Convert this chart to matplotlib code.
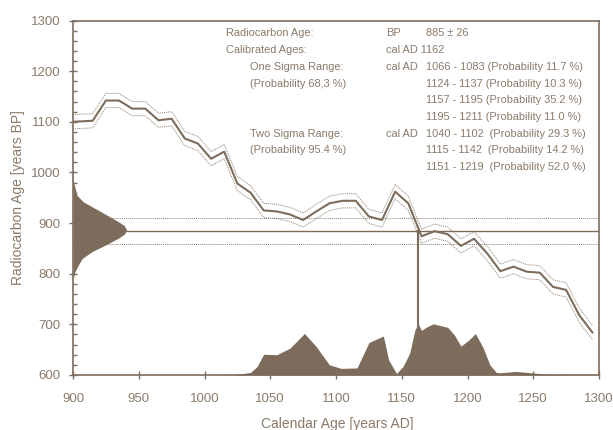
import matplotlib
matplotlib.use("Agg")
import matplotlib.pyplot as plt
from matplotlib.ticker import MultipleLocator

plt.rcParams['font.family'] = ['Liberation Sans', 'DejaVu Sans']

BROWN = "#7d6c5c"
TEXT = "#8a7a6a"

# calibration curve (cal AD vs radiocarbon age BP)
cal_ad = [900, 915, 925, 935, 945, 955, 965, 975, 985, 995, 1005, 1015, 1025, 1035,
          1045, 1055, 1065, 1075, 1085, 1095, 1105, 1115, 1125, 1135, 1145, 1155,
          1165, 1175, 1185, 1195, 1205, 1215, 1225, 1235, 1245, 1255, 1265, 1275,
          1285, 1295]
curve_bp = [1100, 1102, 1142, 1142, 1126, 1126, 1103, 1106, 1067, 1057, 1027, 1041,
            978, 960, 925, 923, 917, 906, 923, 939, 944, 944, 913, 906, 962, 939,
            874, 884, 878, 855, 869, 840, 805, 814, 804, 802, 774, 768, 718, 684]
curve_err = [14] * len(cal_ad)

# measured age
bp_mean = 885
bp_sigma = 26
cal_median = 1162

# measured age distribution (BP, width in years on calendar axis)
gauss_bp = [1000, 982, 970, 955, 942, 929, 916, 903, 895, 886, 878, 870, 857, 843,
            830, 817, 804, 791, 780]
gauss_w = [0, 0.5, 1.5, 3, 7.8, 16.7, 25.6, 34.4, 39, 40.8, 39, 34.4, 25, 14,
           7, 4, 1.5, 0.3, 0]

# calibrated distribution (drawn above the 600 BP baseline)
prob_ad = [1000, 1022, 1035, 1040, 1045, 1055, 1065, 1076, 1085, 1095, 1104, 1116,
           1125, 1136, 1140, 1146, 1151, 1156, 1160, 1162.5, 1165, 1169, 1174, 1185,
           1190, 1195, 1201, 1206, 1212, 1217, 1222, 1225, 1237, 1250, 1260, 1275, 1300]
prob_bp = [600, 600.5, 605, 617, 641, 640, 653, 682, 656, 620, 613, 614,
           664, 677, 630, 603, 617, 643, 689, 701, 688, 695, 701, 694,
           679, 657, 669, 682, 653, 620, 605, 604.5, 607, 604, 601.5, 600.5, 600.5]

info_left = ["Radiocarbon Age:", "Calibrated Ages:", "One Sigma Range:",
             "(Probability 68,3 %)", "", "", "Two Sigma Range:",
             "(Probability 95.4 %)", ""]
info_indent = [0, 0, 1, 1, 0, 0, 1, 1, 0]
info_unit = ["BP", "cal AD 1162", "cal AD", "", "", "", "cal AD", "", ""]
info_range = ["885 ± 26", "",
              "1066 - 1083 (Probability 11.7 %)",
              "1124 - 1137 (Probability 10.3 %)",
              "1157 - 1195 (Probability 35.2 %)",
              "1195 - 1211 (Probability 11.0 %)",
              "1040 - 1102  (Probability 29.3 %)",
              "1115 - 1142  (Probability 14.2 %)",
              "1151 - 1219  (Probability 52.0 %)"]

fig = plt.figure(figsize=(6.13, 4.30), dpi=100)
ax = fig.add_axes([73 / 613, 1 - 375 / 430, 526 / 613, 354.5 / 430])

# horizontal lines for measured age
ax.axhline(bp_mean, color=BROWN, lw=1.0)
ax.axhline(bp_mean + bp_sigma, color=BROWN, lw=0.7, ls=(0, (1, 1)), alpha=0.85)
ax.axhline(bp_mean - bp_sigma, color=BROWN, lw=0.7, ls=(0, (1, 1)), alpha=0.85)

# calibration curve with error band
upper = [b + e for b, e in zip(curve_bp, curve_err)]
lower = [b - e for b, e in zip(curve_bp, curve_err)]
ax.plot(cal_ad, curve_bp, color=BROWN, lw=1.5)
ax.plot(cal_ad, upper, color=BROWN, lw=0.7, ls=(0, (1, 1)), alpha=0.85)
ax.plot(cal_ad, lower, color=BROWN, lw=0.7, ls=(0, (1, 1)), alpha=0.85)

# measured age distribution on the y axis
ax.fill_betweenx(gauss_bp, 900, [900 + w for w in gauss_w], color=BROWN, lw=0, zorder=3)

# calibrated distribution
ax.fill_between(prob_ad, 600, prob_bp, color=BROWN, lw=0, zorder=3)
ax.plot([cal_median, cal_median], [600, bp_mean], color=BROWN, lw=1.5, zorder=4)

ax.set_xlim(900, 1300)
ax.set_ylim(600, 1300)
ax.xaxis.set_major_locator(MultipleLocator(50))
ax.yaxis.set_major_locator(MultipleLocator(100))
ax.yaxis.set_minor_locator(MultipleLocator(20))
ax.tick_params(axis="both", which="major", direction="inout", length=6, width=1,
               color=BROWN, labelcolor=TEXT, labelsize=9.5)
ax.tick_params(axis="x", which="major", pad=10)
ax.tick_params(axis="y", which="major", pad=6)
ax.tick_params(axis="y", which="minor", direction="in", length=3, width=1, color=BROWN)
for s in ax.spines.values():
    s.set_color(BROWN)
    s.set_linewidth(1.2)

fig.text(18 / 613, 1 - 198 / 430, "Radiocarbon Age [years BP]", rotation=90,
         ha="center", va="center", color=TEXT, fontsize=10)
fig.text(337 / 613, 1 - 424 / 430, "Calendar Age [years AD]",
         ha="center", va="center", color=TEXT, fontsize=10)

# info block
y0, dy = 33.5, 16.7
fs = 7.9
for i in range(len(info_left)):
    y = 1 - (y0 + i * dy) / 430
    if info_left[i]:
        fig.text((226 + 24 * info_indent[i]) / 613, y, info_left[i],
                 ha="left", va="center", color=TEXT, fontsize=fs)
    if info_unit[i]:
        fig.text(386 / 613, y, info_unit[i], ha="left", va="center", color=TEXT, fontsize=fs)
    if info_range[i]:
        fig.text(426 / 613, y, info_range[i], ha="left", va="center", color=TEXT, fontsize=fs)

fig.savefig("out.png", dpi=100)
